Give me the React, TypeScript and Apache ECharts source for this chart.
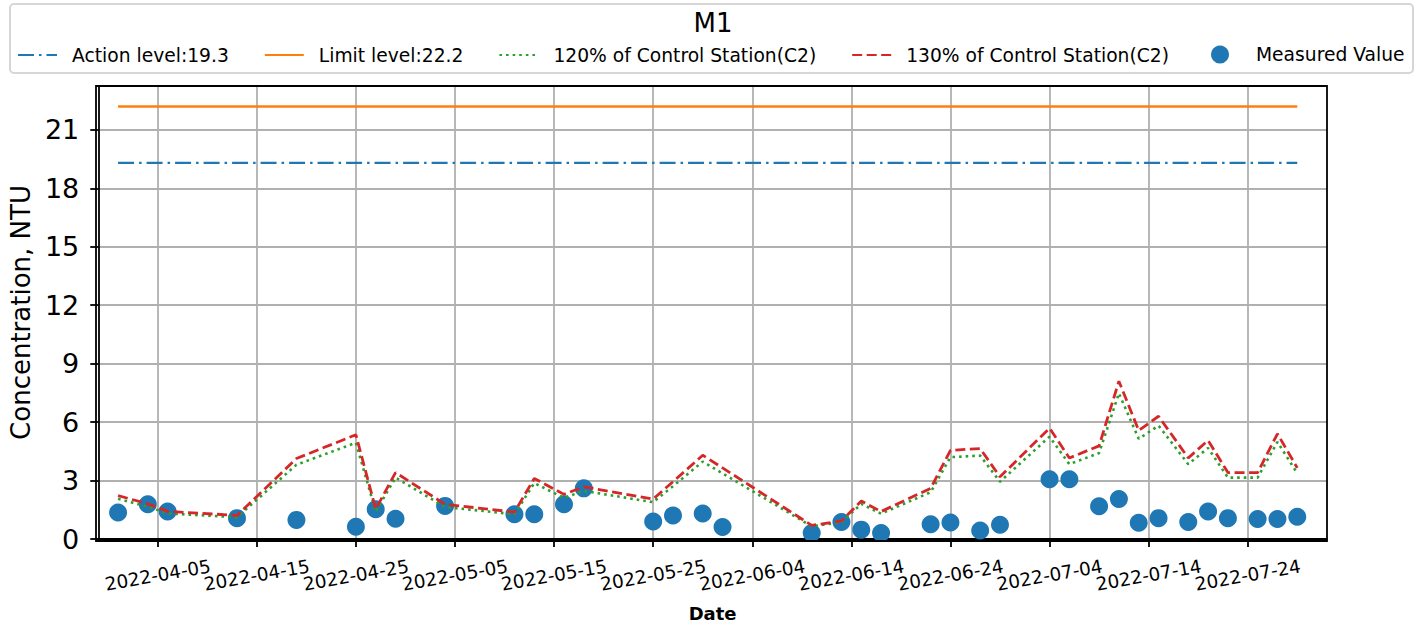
import React, { useEffect, useRef } from 'react';
import * as echarts from 'echarts';

const dates = [
  '2022-04-01', '2022-04-04', '2022-04-06', '2022-04-13', '2022-04-19', '2022-04-25', '2022-04-27', '2022-04-29',
  '2022-05-04', '2022-05-11', '2022-05-13', '2022-05-16', '2022-05-18', '2022-05-25', '2022-05-27', '2022-05-30',
  '2022-06-01', '2022-06-10', '2022-06-13', '2022-06-15', '2022-06-17', '2022-06-22', '2022-06-24', '2022-06-27',
  '2022-06-29', '2022-07-04', '2022-07-06', '2022-07-09', '2022-07-11', '2022-07-13', '2022-07-15', '2022-07-18',
  '2022-07-20', '2022-07-22', '2022-07-25', '2022-07-27', '2022-07-29',
];
const measured = [
  1.36, 1.78, 1.41, 1.07, 0.98, 0.63, 1.53, 1.04,
  1.70, 1.27, 1.27, 1.78, 2.60, 0.90, 1.21, 1.31,
  0.62, 0.31, 0.87, 0.48, 0.31, 0.76, 0.85, 0.44,
  0.73, 3.07, 3.07, 1.68, 2.05, 0.83, 1.07, 0.87,
  1.41, 1.07, 1.03, 1.03, 1.14,
];
const control130 = [
  2.23, 1.80, 1.42, 1.21, 4.13, 5.35, 1.53, 3.41,
  1.78, 1.38, 3.11, 2.29, 2.68, 2.05, 2.94, 4.30,
  3.65, 0.70, 0.93, 1.95, 1.41, 2.60, 4.55, 4.64,
  3.19, 5.69, 4.16, 4.78, 8.10, 5.57, 6.30, 4.16,
  5.06, 3.41, 3.41, 5.40, 3.65,
];
const control120 = [
  2.06, 1.66, 1.31, 1.12, 3.81, 4.94, 1.41, 3.15,
  1.64, 1.27, 2.87, 2.11, 2.47, 1.89, 2.71, 3.97,
  3.37, 0.65, 0.86, 1.80, 1.30, 2.40, 4.20, 4.28,
  2.94, 5.25, 3.84, 4.41, 7.48, 5.14, 5.82, 3.84,
  4.67, 3.15, 3.15, 4.98, 3.37,
];
const actionLevel = 19.3;
const limitLevel = 22.2;
const xTickLabels = [
  '2022-04-05', '2022-04-15', '2022-04-25', '2022-05-05', '2022-05-15', '2022-05-25',
  '2022-06-04', '2022-06-14', '2022-06-24', '2022-07-04', '2022-07-14', '2022-07-24',
];
const yTicks = [0, 3, 6, 9, 12, 15, 18, 21];
const xRange = ['2022-03-30', '2022-08-01'];
const yRange = [0, 23.25];

const ts = (s: string) => Date.parse(s + 'T00:00:00Z');
const FONT = 'DejaVu Sans';

export default function App() {
  const ref = useRef<HTMLDivElement>(null);
  useEffect(() => {
    if (!ref.current) return;
    const chart = echarts.init(ref.current, null, { renderer: 'svg' });
    const xs = dates.map(ts);
    const first = xs[0];
    const last = xs[xs.length - 1];
    const tickTs = xTickLabels.map(ts);
    const evenTicks = tickTs.filter((_, i) => i % 2 === 0);
    const oddTicks = tickTs.filter((_, i) => i % 2 === 1);
    const legendNames = [
      'Action level:' + actionLevel,
      'Limit level:' + limitLevel,
      '120% of Control Station(C2)',
      '130% of Control Station(C2)',
      'Measured Value',
    ];
    const xLabel = (vals: number[]) => ({
      customValues: vals,
      showMinLabel: true,
      showMaxLabel: true,
      formatter: (v: number) => new Date(v).toISOString().slice(0, 10),
      rotate: 10,
      align: 'center',
      verticalAlign: 'middle',
      margin: 36,
      fontSize: 18.4,
      fontFamily: FONT,
      color: '#000',
    });
    chart.setOption({
      animation: false,
      textStyle: { fontFamily: FONT },
      grid: { left: 96, top: 86, right: 100, bottom: 86, containLabel: false },
      graphic: [
        {
          type: 'rect',
          z: -10,
          shape: { x: 10, y: 4, width: 1403, height: 69, r: 4 },
          style: { fill: 'none', stroke: '#d6d6d6', lineWidth: 2 },
        },
        {
          type: 'text',
          x: 713,
          y: 23,
          style: {
            text: 'M1',
            fontSize: 26,
            fontFamily: FONT,
            fill: '#000',
            align: 'center',
            verticalAlign: 'middle',
          },
        },
        {
          type: 'circle',
          shape: { cx: 1220, cy: 54.5, r: 9 },
          style: { fill: '#1f77b4' },
        },
        {
          type: 'text',
          x: 1256,
          y: 54.5,
          style: {
            text: legendNames[4],
            fontSize: 18.7,
            fontFamily: FONT,
            fill: '#000',
            align: 'left',
            verticalAlign: 'middle',
          },
        },
        {
          type: 'rect',
          z: 100,
          shape: { x: 96, y: 86, width: 1231, height: 455 },
          style: { fill: 'none', stroke: '#000', lineWidth: 1.8 },
        },
      ],
      legend: {
        left: 17,
        top: 45.5,
        padding: 0,
        itemGap: 35,
        itemWidth: 39,
        itemHeight: 18,
        textStyle: {
          fontSize: 18.7,
          fontFamily: FONT,
          color: '#000',
          lineHeight: 18,
          padding: [0, 0, 0, 10],
        },
        data: legendNames.slice(0, 4).map((n) => ({ name: n, itemStyle: { opacity: 0 } })),
      },
      xAxis: [
        {
          type: 'value',
          min: ts(xRange[0]),
          max: ts(xRange[1]),
          axisLine: { show: true, lineStyle: { color: '#000', width: 1.8 } },
          axisTick: {
            show: true,
            length: 8,
            lineStyle: { color: '#000', width: 1.8 },
            customValues: tickTs,
          },
          axisLabel: xLabel(evenTicks),
          splitLine: { show: true, lineStyle: { color: '#b0b0b0', width: 1.8 } },
          name: 'Date',
          nameLocation: 'middle',
          nameGap: 74,
          nameTextStyle: {
            fontSize: 18,
            fontWeight: 'bold',
            fontFamily: FONT,
            color: '#000',
            verticalAlign: 'middle',
            align: 'center',
          },
        },
        {
          type: 'value',
          position: 'bottom',
          min: ts(xRange[0]),
          max: ts(xRange[1]),
          axisLine: { show: false },
          axisTick: { show: false },
          splitLine: { show: false },
          axisLabel: xLabel(oddTicks),
        },
      ],
      yAxis: {
        type: 'value',
        min: yRange[0],
        max: yRange[1],
        interval: 3,
        axisLine: { show: true, lineStyle: { color: '#000', width: 1.8 } },
        axisTick: {
          show: true,
          length: 8,
          lineStyle: { color: '#000', width: 1.8 },
          customValues: yTicks,
        },
        axisLabel: {
          customValues: yTicks,
          showMinLabel: true,
          showMaxLabel: true,
          margin: 19,
          fontSize: 27,
          fontFamily: FONT,
          color: '#000',
        },
        splitLine: { show: true, lineStyle: { color: '#b0b0b0', width: 1.8 } },
        name: 'Concentration, NTU',
        nameLocation: 'middle',
        nameGap: 77,
        nameRotate: 90,
        nameTextStyle: {
          fontSize: 26,
          fontFamily: FONT,
          color: '#000',
          verticalAlign: 'middle',
          align: 'center',
        },
      },
      series: [
        {
          name: legendNames[0],
          type: 'line',
          symbol: 'none',
          color: '#1f77b4',
          lineStyle: { color: '#1f77b4', width: 2.3, type: [16, 5, 2.5, 5] },
          data: [[first, actionLevel], [last, actionLevel]],
        },
        {
          name: legendNames[1],
          type: 'line',
          symbol: 'none',
          color: '#ff7f0e',
          lineStyle: { color: '#ff7f0e', width: 2.5 },
          data: [[first, limitLevel], [last, limitLevel]],
        },
        {
          name: legendNames[2],
          type: 'line',
          symbol: 'none',
          color: '#2ca02c',
          lineStyle: { color: '#2ca02c', width: 2.6, type: [2.6, 4] },
          data: xs.map((x, i) => [x, control120[i]]),
        },
        {
          name: legendNames[3],
          type: 'line',
          symbol: 'none',
          color: '#d62728',
          lineStyle: { color: '#d62728', width: 2.8, type: [10, 4.5] },
          data: xs.map((x, i) => [x, control130[i]]),
        },
        {
          name: legendNames[4],
          type: 'scatter',
          symbol: 'circle',
          symbolSize: 18,
          color: '#1f77b4',
          itemStyle: { color: '#1f77b4', opacity: 1 },
          data: xs.map((x, i) => [x, measured[i]]),
        },
      ],
    });
    return () => chart.dispose();
  }, []);
  return (
    <div
      ref={ref}
      style={{ position: 'fixed', left: 0, top: 0, width: 1427, height: 627, background: '#fff' }}
    />
  );
}
